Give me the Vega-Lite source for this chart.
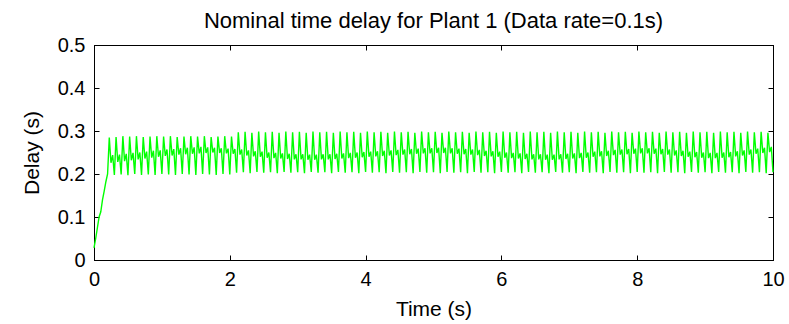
{
"$schema":"https://vega.github.io/schema/vega-lite/v6.json",
"width":679,"height":215,
"autosize":{"type":"none"},
"padding":{"left":94,"top":45,"right":16,"bottom":64},
"background":"white",
"config":{"view":{"stroke":"black","strokeWidth":1},"font":"Liberation Sans",
"axis":{"grid":false,"domainColor":"black","tickColor":"black","tickSize":-5,"labelColor":"black","labelFont":"Liberation Sans","labelFontSize":20,"titleFont":"Liberation Sans","titleFontSize":21,"titleFontWeight":"normal","titleColor":"black","labelFlush":false,"labelOverlap":false,"labelBound":false}},
"title":{"text":"Nominal time delay for Plant 1 (Data rate=0.1s)","fontSize":22,"fontWeight":"normal","font":"Liberation Sans","color":"black","anchor":"middle","offset":2},
"data":{"values":[
{"t":0,"d":0.028},{"t":0.025,"d":0.05},{"t":0.05,"d":0.075},{"t":0.075,"d":0.1},{"t":0.1,"d":0.112},{"t":0.125,"d":0.14},{"t":0.15,"d":0.16},{"t":0.175,"d":0.182},
{"t":0.2,"d":0.2},{"t":0.225,"d":0.285},{"t":0.25,"d":0.226},{"t":0.275,"d":0.244},
{"t":0.3,"d":0.198},{"t":0.325,"d":0.286},{"t":0.35,"d":0.228},{"t":0.375,"d":0.245},
{"t":0.4,"d":0.199},{"t":0.425,"d":0.288},{"t":0.45,"d":0.23},{"t":0.475,"d":0.247},
{"t":0.5,"d":0.197},{"t":0.525,"d":0.287},{"t":0.55,"d":0.232},{"t":0.575,"d":0.249},
{"t":0.6,"d":0.2},{"t":0.625,"d":0.288},{"t":0.65,"d":0.234},{"t":0.675,"d":0.25},
{"t":0.7,"d":0.198},{"t":0.725,"d":0.286},{"t":0.75,"d":0.236},{"t":0.775,"d":0.252},
{"t":0.8,"d":0.199},{"t":0.825,"d":0.287},{"t":0.85,"d":0.238},{"t":0.875,"d":0.254},
{"t":0.9,"d":0.198},{"t":0.925,"d":0.288},{"t":0.95,"d":0.24},{"t":0.975,"d":0.255},
{"t":1.0,"d":0.2},{"t":1.025,"d":0.287},{"t":1.05,"d":0.242},{"t":1.075,"d":0.257},
{"t":1.1,"d":0.199},{"t":1.125,"d":0.288},{"t":1.15,"d":0.243},{"t":1.175,"d":0.258},
{"t":1.2,"d":0.198},{"t":1.225,"d":0.286},{"t":1.25,"d":0.245},{"t":1.275,"d":0.26},
{"t":1.3,"d":0.2},{"t":1.325,"d":0.287},{"t":1.35,"d":0.246},{"t":1.375,"d":0.261},
{"t":1.4,"d":0.199},{"t":1.425,"d":0.288},{"t":1.45,"d":0.247},{"t":1.475,"d":0.262},
{"t":1.5,"d":0.198},{"t":1.525,"d":0.287},{"t":1.55,"d":0.248},{"t":1.575,"d":0.263},
{"t":1.6,"d":0.2},{"t":1.625,"d":0.288},{"t":1.65,"d":0.249},{"t":1.675,"d":0.262},
{"t":1.7,"d":0.199},{"t":1.725,"d":0.286},{"t":1.75,"d":0.25},{"t":1.775,"d":0.261},
{"t":1.8,"d":0.198},{"t":1.825,"d":0.287},{"t":1.85,"d":0.249},{"t":1.875,"d":0.26},
{"t":1.9,"d":0.2},{"t":1.925,"d":0.288},{"t":1.95,"d":0.248},{"t":1.975,"d":0.259},
{"t":2.0,"d":0.199},{"t":2.025,"d":0.287},{"t":2.05,"d":0.247},{"t":2.075,"d":0.258},
{"t":2.1,"d":0.203},{"t":2.125,"d":0.297},{"t":2.15,"d":0.245},{"t":2.175,"d":0.257},
{"t":2.2,"d":0.204},{"t":2.225,"d":0.298},{"t":2.25,"d":0.243},{"t":2.275,"d":0.255},
{"t":2.3,"d":0.202},{"t":2.325,"d":0.296},{"t":2.35,"d":0.241},{"t":2.375,"d":0.253},
{"t":2.4,"d":0.205},{"t":2.425,"d":0.299},{"t":2.45,"d":0.24},{"t":2.475,"d":0.252},
{"t":2.5,"d":0.203},{"t":2.525,"d":0.297},{"t":2.55,"d":0.238},{"t":2.575,"d":0.25},
{"t":2.6,"d":0.204},{"t":2.625,"d":0.298},{"t":2.65,"d":0.237},{"t":2.675,"d":0.249},
{"t":2.7,"d":0.202},{"t":2.725,"d":0.296},{"t":2.75,"d":0.236},{"t":2.775,"d":0.248},
{"t":2.8,"d":0.205},{"t":2.825,"d":0.299},{"t":2.85,"d":0.235},{"t":2.875,"d":0.247},
{"t":2.9,"d":0.203},{"t":2.925,"d":0.297},{"t":2.95,"d":0.234},{"t":2.975,"d":0.246},
{"t":3.0,"d":0.204},{"t":3.025,"d":0.298},{"t":3.05,"d":0.234},{"t":3.075,"d":0.246},
{"t":3.1,"d":0.202},{"t":3.125,"d":0.296},{"t":3.15,"d":0.233},{"t":3.175,"d":0.245},
{"t":3.2,"d":0.205},{"t":3.225,"d":0.299},{"t":3.25,"d":0.233},{"t":3.275,"d":0.245},
{"t":3.3,"d":0.203},{"t":3.325,"d":0.297},{"t":3.35,"d":0.234},{"t":3.375,"d":0.246},
{"t":3.4,"d":0.204},{"t":3.425,"d":0.298},{"t":3.45,"d":0.234},{"t":3.475,"d":0.246},
{"t":3.5,"d":0.202},{"t":3.525,"d":0.296},{"t":3.55,"d":0.235},{"t":3.575,"d":0.247},
{"t":3.6,"d":0.205},{"t":3.625,"d":0.299},{"t":3.65,"d":0.236},{"t":3.675,"d":0.248},
{"t":3.7,"d":0.203},{"t":3.725,"d":0.297},{"t":3.75,"d":0.237},{"t":3.775,"d":0.249},
{"t":3.8,"d":0.204},{"t":3.825,"d":0.298},{"t":3.85,"d":0.238},{"t":3.875,"d":0.25},
{"t":3.9,"d":0.202},{"t":3.925,"d":0.296},{"t":3.95,"d":0.239},{"t":3.975,"d":0.251},
{"t":4.0,"d":0.205},{"t":4.025,"d":0.299},{"t":4.05,"d":0.24},{"t":4.075,"d":0.252},
{"t":4.1,"d":0.203},{"t":4.125,"d":0.297},{"t":4.15,"d":0.241},{"t":4.175,"d":0.253},
{"t":4.2,"d":0.204},{"t":4.225,"d":0.298},{"t":4.25,"d":0.242},{"t":4.275,"d":0.254},
{"t":4.3,"d":0.202},{"t":4.325,"d":0.296},{"t":4.35,"d":0.243},{"t":4.375,"d":0.255},
{"t":4.4,"d":0.205},{"t":4.425,"d":0.299},{"t":4.45,"d":0.244},{"t":4.475,"d":0.256},
{"t":4.5,"d":0.203},{"t":4.525,"d":0.297},{"t":4.55,"d":0.245},{"t":4.575,"d":0.257},
{"t":4.6,"d":0.204},{"t":4.625,"d":0.298},{"t":4.65,"d":0.246},{"t":4.675,"d":0.258},
{"t":4.7,"d":0.202},{"t":4.725,"d":0.296},{"t":4.75,"d":0.247},{"t":4.775,"d":0.259},
{"t":4.8,"d":0.205},{"t":4.825,"d":0.299},{"t":4.85,"d":0.248},{"t":4.875,"d":0.26},
{"t":4.9,"d":0.203},{"t":4.925,"d":0.297},{"t":4.95,"d":0.248},{"t":4.975,"d":0.26},
{"t":5.0,"d":0.204},{"t":5.025,"d":0.298},{"t":5.05,"d":0.249},{"t":5.075,"d":0.261},
{"t":5.1,"d":0.202},{"t":5.125,"d":0.296},{"t":5.15,"d":0.249},{"t":5.175,"d":0.261},
{"t":5.2,"d":0.205},{"t":5.225,"d":0.299},{"t":5.25,"d":0.248},{"t":5.275,"d":0.26},
{"t":5.3,"d":0.203},{"t":5.325,"d":0.297},{"t":5.35,"d":0.247},{"t":5.375,"d":0.259},
{"t":5.4,"d":0.204},{"t":5.425,"d":0.298},{"t":5.45,"d":0.246},{"t":5.475,"d":0.258},
{"t":5.5,"d":0.202},{"t":5.525,"d":0.296},{"t":5.55,"d":0.245},{"t":5.575,"d":0.257},
{"t":5.6,"d":0.205},{"t":5.625,"d":0.299},{"t":5.65,"d":0.244},{"t":5.675,"d":0.256},
{"t":5.7,"d":0.203},{"t":5.725,"d":0.297},{"t":5.75,"d":0.242},{"t":5.775,"d":0.254},
{"t":5.8,"d":0.204},{"t":5.825,"d":0.298},{"t":5.85,"d":0.241},{"t":5.875,"d":0.253},
{"t":5.9,"d":0.202},{"t":5.925,"d":0.296},{"t":5.95,"d":0.24},{"t":5.975,"d":0.252},
{"t":6.0,"d":0.205},{"t":6.025,"d":0.299},{"t":6.05,"d":0.238},{"t":6.075,"d":0.25},
{"t":6.1,"d":0.203},{"t":6.125,"d":0.297},{"t":6.15,"d":0.237},{"t":6.175,"d":0.249},
{"t":6.2,"d":0.204},{"t":6.225,"d":0.298},{"t":6.25,"d":0.236},{"t":6.275,"d":0.248},
{"t":6.3,"d":0.202},{"t":6.325,"d":0.296},{"t":6.35,"d":0.235},{"t":6.375,"d":0.247},
{"t":6.4,"d":0.205},{"t":6.425,"d":0.299},{"t":6.45,"d":0.234},{"t":6.475,"d":0.246},
{"t":6.5,"d":0.203},{"t":6.525,"d":0.297},{"t":6.55,"d":0.234},{"t":6.575,"d":0.246},
{"t":6.6,"d":0.204},{"t":6.625,"d":0.298},{"t":6.65,"d":0.233},{"t":6.675,"d":0.245},
{"t":6.7,"d":0.202},{"t":6.725,"d":0.296},{"t":6.75,"d":0.233},{"t":6.775,"d":0.245},
{"t":6.8,"d":0.205},{"t":6.825,"d":0.299},{"t":6.85,"d":0.234},{"t":6.875,"d":0.246},
{"t":6.9,"d":0.203},{"t":6.925,"d":0.297},{"t":6.95,"d":0.235},{"t":6.975,"d":0.247},
{"t":7.0,"d":0.204},{"t":7.025,"d":0.298},{"t":7.05,"d":0.236},{"t":7.075,"d":0.248},
{"t":7.1,"d":0.202},{"t":7.125,"d":0.296},{"t":7.15,"d":0.237},{"t":7.175,"d":0.249},
{"t":7.2,"d":0.205},{"t":7.225,"d":0.299},{"t":7.25,"d":0.238},{"t":7.275,"d":0.25},
{"t":7.3,"d":0.203},{"t":7.325,"d":0.297},{"t":7.35,"d":0.24},{"t":7.375,"d":0.252},
{"t":7.4,"d":0.204},{"t":7.425,"d":0.298},{"t":7.45,"d":0.241},{"t":7.475,"d":0.253},
{"t":7.5,"d":0.202},{"t":7.525,"d":0.296},{"t":7.55,"d":0.242},{"t":7.575,"d":0.254},
{"t":7.6,"d":0.205},{"t":7.625,"d":0.299},{"t":7.65,"d":0.244},{"t":7.675,"d":0.256},
{"t":7.7,"d":0.203},{"t":7.725,"d":0.297},{"t":7.75,"d":0.245},{"t":7.775,"d":0.257},
{"t":7.8,"d":0.204},{"t":7.825,"d":0.298},{"t":7.85,"d":0.246},{"t":7.875,"d":0.258},
{"t":7.9,"d":0.202},{"t":7.925,"d":0.296},{"t":7.95,"d":0.247},{"t":7.975,"d":0.259},
{"t":8.0,"d":0.205},{"t":8.025,"d":0.299},{"t":8.05,"d":0.248},{"t":8.075,"d":0.26},
{"t":8.1,"d":0.203},{"t":8.125,"d":0.297},{"t":8.15,"d":0.248},{"t":8.175,"d":0.26},
{"t":8.2,"d":0.204},{"t":8.225,"d":0.298},{"t":8.25,"d":0.247},{"t":8.275,"d":0.259},
{"t":8.3,"d":0.202},{"t":8.325,"d":0.296},{"t":8.35,"d":0.246},{"t":8.375,"d":0.258},
{"t":8.4,"d":0.205},{"t":8.425,"d":0.299},{"t":8.45,"d":0.245},{"t":8.475,"d":0.257},
{"t":8.5,"d":0.203},{"t":8.525,"d":0.297},{"t":8.55,"d":0.243},{"t":8.575,"d":0.255},
{"t":8.6,"d":0.204},{"t":8.625,"d":0.298},{"t":8.65,"d":0.242},{"t":8.675,"d":0.254},
{"t":8.7,"d":0.202},{"t":8.725,"d":0.296},{"t":8.75,"d":0.24},{"t":8.775,"d":0.252},
{"t":8.8,"d":0.205},{"t":8.825,"d":0.299},{"t":8.85,"d":0.239},{"t":8.875,"d":0.251},
{"t":8.9,"d":0.203},{"t":8.925,"d":0.297},{"t":8.95,"d":0.238},{"t":8.975,"d":0.25},
{"t":9.0,"d":0.204},{"t":9.025,"d":0.298},{"t":9.05,"d":0.237},{"t":9.075,"d":0.249},
{"t":9.1,"d":0.202},{"t":9.125,"d":0.296},{"t":9.15,"d":0.237},{"t":9.175,"d":0.249},
{"t":9.2,"d":0.205},{"t":9.225,"d":0.299},{"t":9.25,"d":0.238},{"t":9.275,"d":0.25},
{"t":9.3,"d":0.203},{"t":9.325,"d":0.297},{"t":9.35,"d":0.239},{"t":9.375,"d":0.251},
{"t":9.4,"d":0.204},{"t":9.425,"d":0.298},{"t":9.45,"d":0.241},{"t":9.475,"d":0.253},
{"t":9.5,"d":0.202},{"t":9.525,"d":0.296},{"t":9.55,"d":0.243},{"t":9.575,"d":0.255},
{"t":9.6,"d":0.205},{"t":9.625,"d":0.299},{"t":9.65,"d":0.245},{"t":9.675,"d":0.257},
{"t":9.7,"d":0.203},{"t":9.725,"d":0.297},{"t":9.75,"d":0.247},{"t":9.775,"d":0.259},
{"t":9.8,"d":0.204},{"t":9.825,"d":0.298},{"t":9.85,"d":0.249},{"t":9.875,"d":0.261},
{"t":9.9,"d":0.202},{"t":9.925,"d":0.296},{"t":9.95,"d":0.251},{"t":9.975,"d":0.263},
{"t":10.0,"d":0.204}
]},
"layer":[
{"mark":{"type":"line","color":"#00ff00","strokeWidth":1.4},
"encoding":{
"x":{"field":"t","type":"quantitative","scale":{"domain":[0,10],"nice":false,"zero":false},"axis":{"orient":"bottom","values":[0,2,4,6,8,10],"title":"Time (s)","labelPadding":14,"titlePadding":9}},
"y":{"field":"d","type":"quantitative","scale":{"domain":[0,0.5],"nice":false},"axis":{"orient":"left","values":[0,0.1,0.2,0.3,0.4,0.5],"format":"~g","title":"Delay (s)","labelPadding":14,"titlePadding":15}}}},
{"mark":{"type":"line","strokeOpacity":0},
"encoding":{
"x":{"field":"t","type":"quantitative","axis":{"orient":"top","values":[0,2,4,6,8,10],"labels":false,"title":null}},
"y":{"field":"d","type":"quantitative","axis":{"orient":"right","values":[0,0.1,0.2,0.3,0.4,0.5],"labels":false,"title":null}}}}
],
"resolve":{"axis":{"x":"independent","y":"independent"}}
}
